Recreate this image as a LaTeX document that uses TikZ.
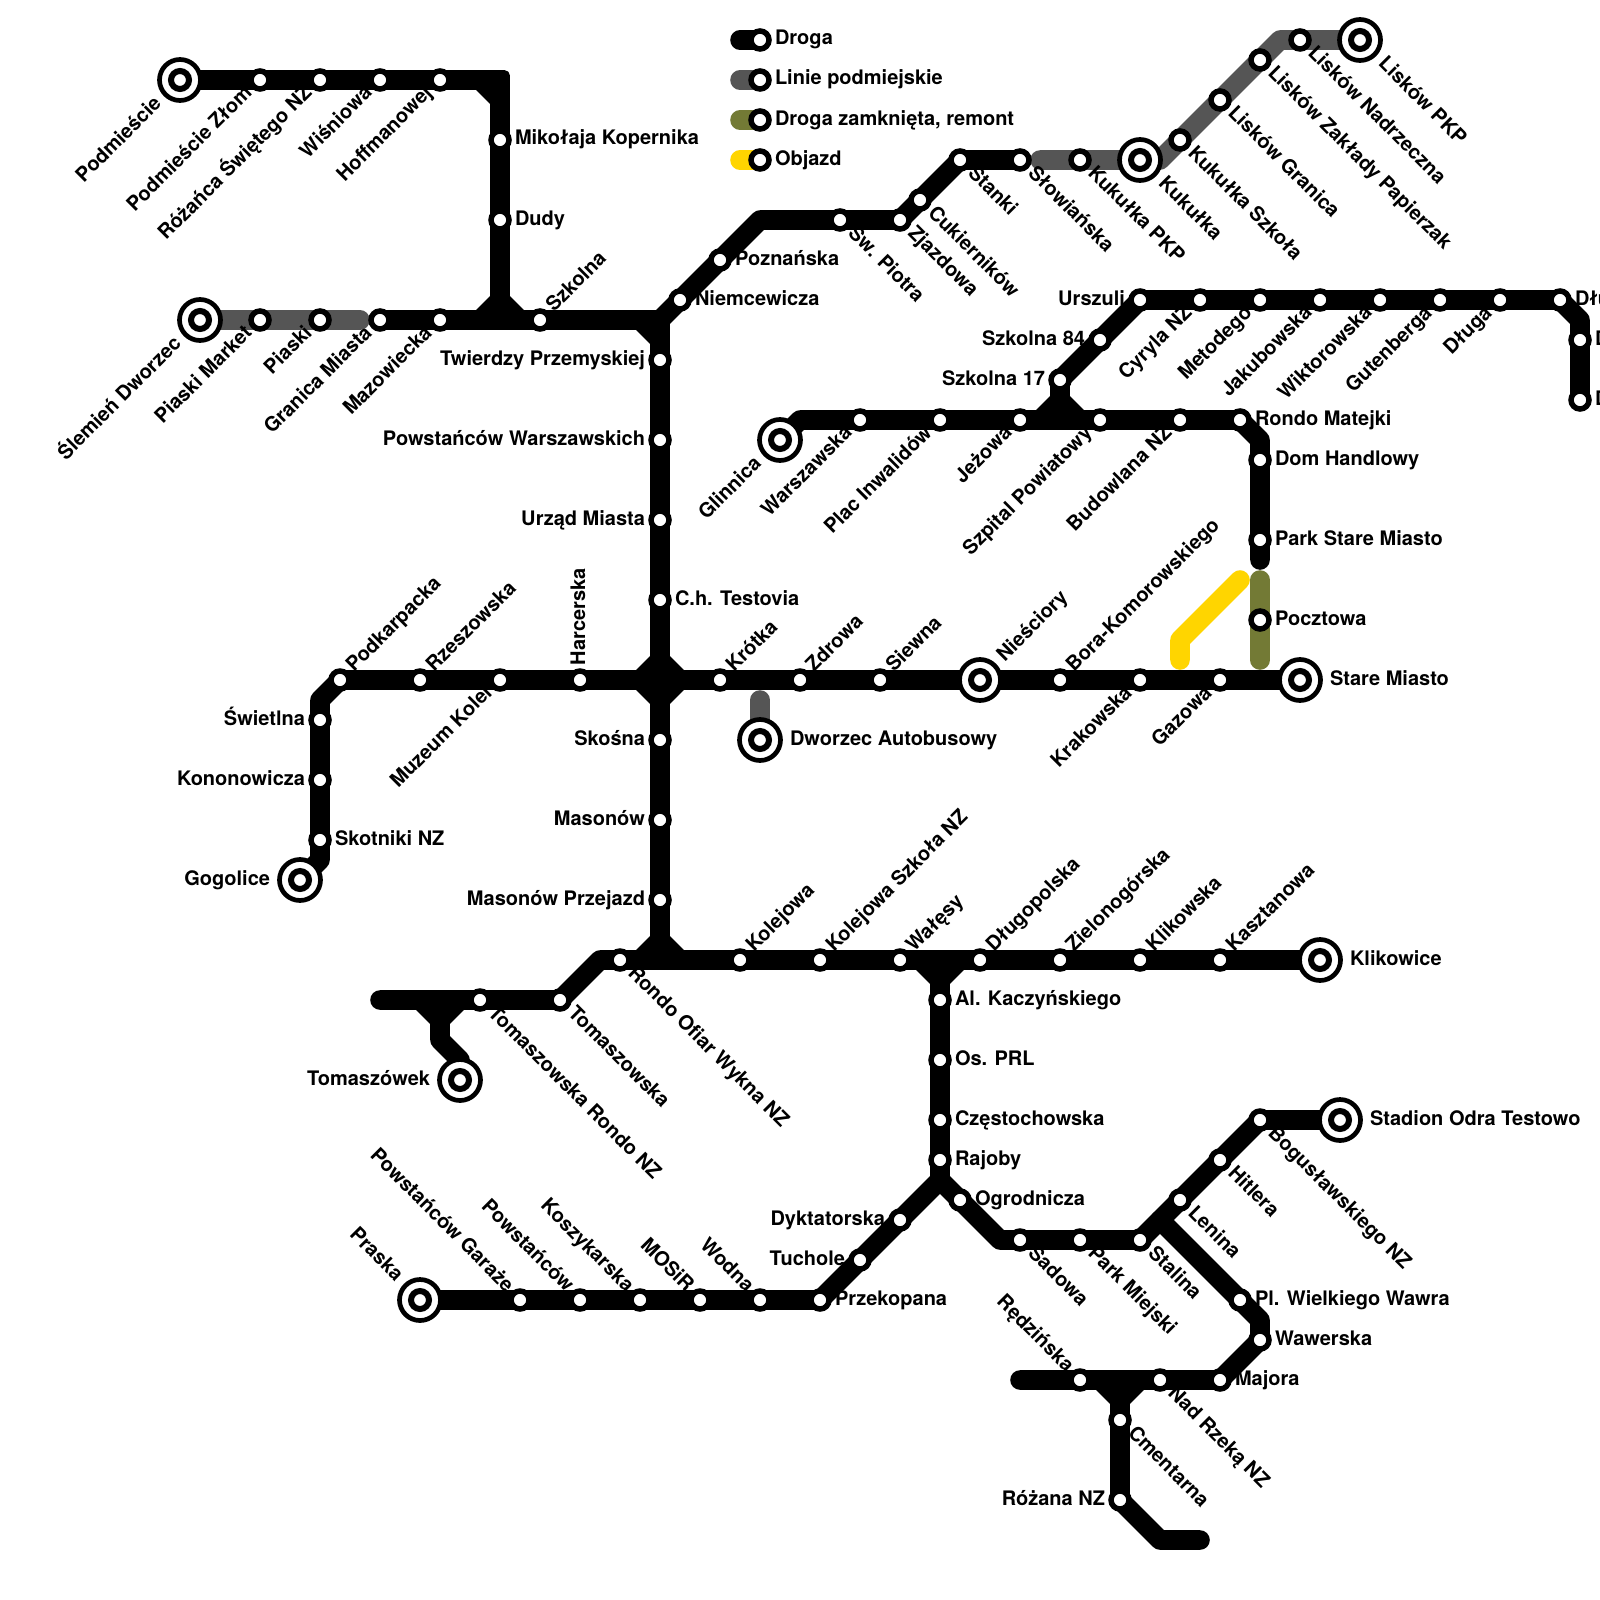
\documentclass[tikz,border=0pt]{standalone}
\usepackage{fontspec}
\setmainfont{TeX Gyre Heros}
\pgfdeclarelayer{lines}
\pgfsetlayers{lines,main}
\definecolor{rdgray}{HTML}{555555}
\definecolor{rdolive}{HTML}{737A35}
\definecolor{rdyellow}{HTML}{FFD500}
\tikzset{
  x=1pt,y=-1pt,
  ln/.style={line width=19.6pt,line cap=round,line join=round,black},
  lngray/.style={ln,rdgray},
  lnolive/.style={ln,rdolive},
  lnyellow/.style={ln,rdyellow},
  stop/.style={circle,draw=black,fill=white,line width=5.5pt,minimum size=18pt,inner sep=0pt,outer sep=0pt},
  termout/.style={circle,draw=black,fill=white,line width=4.7pt,minimum size=41pt,inner sep=0pt,outer sep=0pt},
  termin/.style={circle,draw=black,fill=white,line width=6pt,minimum size=18pt,inner sep=0pt,outer sep=0pt},
  txt/.style={font=\fontsize{20}{21}\selectfont\bfseries,inner sep=0pt,outer sep=0pt,text=black},
  lblE/.style={txt,anchor=base west,xshift=#1pt,yshift=-5pt},
  lblW/.style={txt,anchor=base east,xshift=-#1pt,yshift=-5pt},
  lblNE/.style={txt,rotate=45,anchor=base west,xshift=#1pt,yshift=-5pt},
  lblSW/.style={txt,rotate=45,anchor=base east,xshift=-#1pt,yshift=-5pt},
  lblSE/.style={txt,rotate=-45,anchor=base west,xshift=#1pt,yshift=-5pt},
  lblNW/.style={txt,rotate=-45,anchor=base east,xshift=-#1pt,yshift=-5pt},
  lblN/.style={txt,rotate=90,anchor=base west,xshift=#1pt,yshift=-5pt},
  lblE/.default=15,lblW/.default=15,lblNE/.default=15,lblSW/.default=15,
  lblSE/.default=15,lblNW/.default=15,lblN/.default=15,
}
\newcommand{\st}[5]{\node[stop] (#1) at (#2,#3) {}; \node[#4] (#1t) at (#1) {#5};}
\newcommand{\tm}[5]{\node[termout] (#1) at (#2,#3) {}; \node[termin] (#1i) at (#1) {}; \node[#4=30] (#1t) at (#1) {#5};}
\newcommand{\bend}[3]{\coordinate (#1) at (#2,#3);}
\begin{document}
\begin{tikzpicture}
\useasboundingbox (0,0) rectangle (1600,1600);
% legend
\st{lega}{760}{40}{lblE}{Droga}
\st{legb}{760}{80}{lblE}{Linie podmiejskie}
\st{legc}{760}{120}{lblE}{Droga zamknięta, remont}
\st{legd}{760}{160}{lblE}{Objazd}
\bend{lsa}{740}{40}\bend{lsb}{740}{80}\bend{lsc}{740}{120}\bend{lsd}{740}{160}
% top-left
\tm{podm}{180}{80}{lblSW}{Podmieście}
\st{zlom}{260}{80}{lblSW}{Podmieście Złom}
\st{roza}{320}{80}{lblSW}{Różańca Świętego NZ}
\st{wisn}{380}{80}{lblSW}{Wiśniowa}
\st{hoff}{440}{80}{lblSW}{Hoffmanowej}
\st{miko}{500}{140}{lblE}{Mikołaja Kopernika}
\st{dudy}{500}{220}{lblE}{Dudy}
\tm{slem}{200}{320}{lblSW}{Ślemień Dworzec}
\st{pmar}{260}{320}{lblSW}{Piaski Market}
\st{pias}{320}{320}{lblSW}{Piaski}
\st{gran}{380}{320}{lblSW}{Granica Miasta}
\st{mazo}{440}{320}{lblSW}{Mazowiecka}
\st{szko}{540}{320}{lblNE}{Szkolna}
% main vertical
\st{twie}{660}{360}{lblW}{Twierdzy Przemyskiej}
\st{powa}{660}{440}{lblW}{Powstańców Warszawskich}
\st{urza}{660}{520}{lblW}{Urząd Miasta}
\st{test}{660}{600}{lblE}{C.h. Testovia}
\st{skos}{660}{740}{lblW}{Skośna}
\st{maso}{660}{820}{lblW}{Masonów}
\st{mprz}{660}{900}{lblW}{Masonów Przejazd}
% upper diagonal
\st{niem}{680}{300}{lblE}{Niemcewicza}
\st{pozn}{720}{260}{lblE}{Poznańska}
\st{swpi}{840}{220}{lblSE}{Św. Piotra}
\st{zjaz}{900}{220}{lblSE}{Zjazdowa}
\st{cuki}{920}{200}{lblSE}{Cukierników}
\st{stan}{960}{160}{lblSE}{Stanki}
\st{slow}{1020}{160}{lblSE}{Słowiańska}
\st{kpkp}{1080}{160}{lblSE}{Kukułka PKP}
\tm{kuku}{1140}{160}{lblSE}{Kukułka}
\st{kszk}{1180}{140}{lblSE}{Kukułka Szkoła}
\st{lgra}{1220}{100}{lblSE}{Lisków Granica}
\st{lzak}{1260}{60}{lblSE}{Lisków Zakłady Papierzak}
\st{lnad}{1300}{40}{lblSE}{Lisków Nadrzeczna}
\tm{lpkp}{1360}{40}{lblSE}{Lisków PKP}
% Urszuli row
\st{ursz}{1140}{300}{lblW}{Urszuli}
\st{sz84}{1100}{340}{lblW}{Szkolna 84}
\st{sz17}{1060}{380}{lblW}{Szkolna 17}
\st{cyry}{1200}{300}{lblSW}{Cyryla NZ}
\st{meto}{1260}{300}{lblSW}{Metodego}
\st{jaku}{1320}{300}{lblSW}{Jakubowska}
\st{wikt}{1380}{300}{lblSW}{Wiktorowska}
\st{gute}{1440}{300}{lblSW}{Gutenberga}
\st{dlug}{1500}{300}{lblSW}{Długa}
\st{dlub}{1560}{300}{lblE}{Dłu}
\st{dxa}{1580}{340}{lblE}{D}
\st{dxb}{1580}{400}{lblE}{D}
% Glinnica row
\tm{glin}{780}{440}{lblSW}{Glinnica}
\st{wars}{860}{420}{lblSW}{Warszawska}
\st{plac}{940}{420}{lblSW}{Plac Inwalidów}
\st{jezo}{1020}{420}{lblSW}{Jeżowa}
\st{szpi}{1100}{420}{lblSW}{Szpital Powiatowy}
\st{budo}{1180}{420}{lblSW}{Budowlana NZ}
\st{rmat}{1240}{420}{lblE}{Rondo Matejki}
\st{domh}{1260}{460}{lblE}{Dom Handlowy}
\st{park}{1260}{540}{lblE}{Park Stare Miasto}
\st{pocz}{1260}{620}{lblE}{Pocztowa}
% row 680
\st{podk}{340}{680}{lblNE}{Podkarpacka}
\st{rzes}{420}{680}{lblNE}{Rzeszowska}
\st{muze}{500}{680}{lblSW}{Muzeum Kolei}
\st{harc}{580}{680}{lblN}{Harcerska}
\st{krot}{720}{680}{lblNE}{Krótka}
\st{zdro}{800}{680}{lblNE}{Zdrowa}
\st{siew}{880}{680}{lblNE}{Siewna}
\tm{nies}{980}{680}{lblNE}{Nieściory}
\st{bora}{1060}{680}{lblNE}{Bora-Komorowskiego}
\st{krak}{1140}{680}{lblSW}{Krakowska}
\st{gazo}{1220}{680}{lblSW}{Gazowa}
\tm{star}{1300}{680}{lblE}{Stare Miasto}
\tm{dwor}{760}{740}{lblE}{Dworzec Autobusowy}
% left branch
\st{swie}{320}{720}{lblW}{Świetlna}
\st{kono}{320}{780}{lblW}{Kononowicza}
\st{skot}{320}{840}{lblE}{Skotniki NZ}
\tm{gogo}{300}{880}{lblW}{Gogolice}
% row 960
\st{rofi}{620}{960}{lblSE}{Rondo Ofiar Wykna NZ}
\st{kole}{740}{960}{lblNE}{Kolejowa}
\st{kosz}{820}{960}{lblNE}{Kolejowa Szkoła NZ}
\st{wale}{900}{960}{lblNE}{Wałęsy}
\st{dluo}{980}{960}{lblNE}{Długopolska}
\st{ziel}{1060}{960}{lblNE}{Zielonogórska}
\st{klis}{1140}{960}{lblNE}{Klikowska}
\st{kasz}{1220}{960}{lblNE}{Kasztanowa}
\tm{klik}{1320}{960}{lblE}{Klikowice}
\st{toma}{560}{1000}{lblSE}{Tomaszowska}
\st{tron}{480}{1000}{lblSE}{Tomaszowska Rondo NZ}
\tm{tomk}{460}{1080}{lblW}{Tomaszówek}
% south vertical
\st{alka}{940}{1000}{lblE}{Al. Kaczyńskiego}
\st{ospr}{940}{1060}{lblE}{Os. PRL}
\st{czes}{940}{1120}{lblE}{Częstochowska}
\st{rajo}{940}{1160}{lblE}{Rajoby}
\st{ogro}{960}{1200}{lblE}{Ogrodnicza}
\st{dykt}{900}{1220}{lblW}{Dyktatorska}
\st{tuch}{860}{1260}{lblW}{Tuchole}
\st{prze}{820}{1300}{lblE}{Przekopana}
\st{wodn}{760}{1300}{lblNW}{Wodna}
\st{mosi}{700}{1300}{lblNW}{MOSiR}
\st{kory}{640}{1300}{lblNW}{Koszykarska}
\st{pows}{580}{1300}{lblNW}{Powstańców}
\st{pgar}{520}{1300}{lblNW}{Powstańców Garaże}
\tm{pras}{420}{1300}{lblNW}{Praska}
% south-east
\st{sado}{1020}{1240}{lblSE}{Sadowa}
\st{pmie}{1080}{1240}{lblSE}{Park Miejski}
\st{stal}{1140}{1240}{lblSE}{Stalina}
\st{leni}{1180}{1200}{lblSE}{Lenina}
\st{hitl}{1220}{1160}{lblSE}{Hitlera}
\st{bogu}{1260}{1120}{lblSE}{Bogusławskiego NZ}
\tm{stad}{1340}{1120}{lblE}{Stadion Odra Testowo}
\st{plwa}{1240}{1300}{lblE}{Pl. Wielkiego Wawra}
\st{wawe}{1260}{1340}{lblE}{Wawerska}
\st{majo}{1220}{1380}{lblE}{Majora}
\st{nadr}{1160}{1380}{lblSE}{Nad Rzeką NZ}
\st{redz}{1080}{1380}{lblNW}{Rędzińska}
\st{cmen}{1120}{1420}{lblSE}{Cmentarna}
\st{roza2}{1120}{1500}{lblW}{Różana NZ}
% bends and junctions
\bend{j1}{500}{80}\bend{j1a}{480}{80}\bend{j1b}{500}{100}
\bend{j2}{500}{320}\bend{j2a}{480}{320}\bend{j2b}{500}{300}\bend{j2c}{520}{320}
\bend{j3}{660}{320}\bend{j3a}{640}{320}\bend{j3b}{660}{340}
\bend{j4}{660}{680}\bend{j4a}{640}{680}\bend{j4b}{680}{680}\bend{j4c}{660}{660}\bend{j4d}{660}{700}
\bend{j5}{660}{960}\bend{j5a}{640}{960}\bend{j5b}{680}{960}\bend{j5c}{660}{940}
\bend{j6}{940}{960}\bend{j6a}{920}{960}\bend{j6b}{960}{960}\bend{j6c}{940}{980}
\bend{j7}{1060}{420}\bend{j7a}{1040}{420}\bend{j7b}{1080}{420}\bend{j7c}{1060}{400}
\bend{j8}{440}{1000}\bend{j8a}{420}{1000}\bend{j8b}{460}{1000}\bend{j8c}{440}{1020}
\bend{j9}{1120}{1380}\bend{j9a}{1100}{1380}\bend{j9b}{1140}{1380}\bend{j9c}{1120}{1400}
\bend{j10}{940}{1180}\bend{j11}{1160}{1220}
\bend{c1}{760}{220}\bend{c2}{1160}{160}\bend{c3}{1280}{40}\bend{c4}{1580}{320}
\bend{c5}{800}{420}\bend{c6}{1260}{440}\bend{c7}{320}{700}\bend{c8}{320}{860}
\bend{c9}{600}{960}\bend{c10}{440}{1040}\bend{c11}{460}{1060}\bend{c12}{1000}{1240}
\bend{c13}{1260}{1320}\bend{c14}{1160}{1540}
\bend{e1}{360}{320}\bend{e2}{1040}{160}\bend{e3}{1260}{560}\bend{e4}{1260}{580}\bend{e5}{1260}{660}
\bend{e6}{1240}{580}\bend{e7}{1180}{640}\bend{e8}{1180}{660}\bend{e9}{760}{700}
\bend{e10}{380}{1000}\bend{e11}{1020}{1380}\bend{e12}{1200}{1540}
\begin{pgfonlayer}{lines}
% legend lines
\draw[ln] (lsa) -- (lega.center);
\draw[lngray] (lsb) -- (legb.center);
\draw[lnolive] (lsc) -- (legc.center);
\draw[lnyellow] (lsd) -- (legd.center);
% grey and closed sections
\draw[lngray] (slem.center) -- (pmar.center) -- (pias.center) -- (e1);
\draw[lngray] (e2) -- (kpkp.center) -- (kuku.center) -- (c2) -- (kszk.center) -- (lgra.center) -- (lzak.center) -- (c3) -- (lnad.center) -- (lpkp.center);
\draw[lngray] (e9) -- (dwor.center);
\draw[lnolive] (e4) -- (pocz.center) -- (e5);
\draw[lnyellow] (e6) -- (e7) -- (e8);
% black lines
\fill[black,rounded corners=5pt] (470,70.2) -- (509.8,70.2) -- (509.8,110) -- (490.2,110) -- (490.2,89.8) -- (470,89.8) -- cycle;
\draw[ln] (podm.center) -- (zlom.center) -- (roza.center) -- (wisn.center) -- (hoff.center) -- (j1a);
\draw[ln] (j1a) -- (j1b) -- (miko.center) -- (dudy.center) -- (j2);
\draw[ln] (gran.center) -- (mazo.center) -- (j2) -- (szko.center) -- (j3) -- (twie.center) -- (powa.center) -- (urza.center) -- (test.center) -- (j4) -- (skos.center) -- (maso.center) -- (mprz.center) -- (j5);
\draw[ln] (j3) -- (niem.center) -- (pozn.center) -- (c1) -- (swpi.center) -- (zjaz.center) -- (cuki.center) -- (stan.center) -- (slow.center);
\draw[ln] (ursz.center) -- (cyry.center) -- (meto.center) -- (jaku.center) -- (wikt.center) -- (gute.center) -- (dlug.center) -- (dlub.center) -- (c4) -- (dxa.center) -- (dxb.center);
\draw[ln] (ursz.center) -- (sz84.center) -- (sz17.center) -- (j7);
\draw[ln] (glin.center) -- (c5) -- (wars.center) -- (plac.center) -- (jezo.center) -- (j7) -- (szpi.center) -- (budo.center) -- (rmat.center) -- (c6) -- (domh.center) -- (park.center) -- (e3);
\draw[ln] (gogo.center) -- (c8) -- (skot.center) -- (kono.center) -- (swie.center) -- (c7) -- (podk.center) -- (rzes.center) -- (muze.center) -- (harc.center) -- (j4) -- (krot.center) -- (zdro.center) -- (siew.center) -- (nies.center) -- (bora.center) -- (krak.center) -- (gazo.center) -- (star.center);
\draw[ln] (e10) -- (j8) -- (tron.center) -- (toma.center) -- (c9) -- (rofi.center) -- (j5) -- (kole.center) -- (kosz.center) -- (wale.center) -- (j6) -- (dluo.center) -- (ziel.center) -- (klis.center) -- (kasz.center) -- (klik.center);
\draw[ln] (j8) -- (c10) -- (c11) -- (tomk.center);
\draw[ln] (j6) -- (alka.center) -- (ospr.center) -- (czes.center) -- (rajo.center) -- (j10);
\draw[ln] (j10) -- (dykt.center) -- (tuch.center) -- (prze.center) -- (wodn.center) -- (mosi.center) -- (kory.center) -- (pows.center) -- (pgar.center) -- (pras.center);
\draw[ln] (j10) -- (ogro.center) -- (c12) -- (sado.center) -- (pmie.center) -- (stal.center) -- (j11) -- (leni.center) -- (hitl.center) -- (bogu.center) -- (stad.center);
\draw[ln] (j11) -- (plwa.center) -- (c13) -- (wawe.center) -- (majo.center) -- (nadr.center) -- (j9) -- (redz.center) -- (e11);
\draw[ln] (j9) -- (cmen.center) -- (roza2.center) -- (c14) -- (e12);
% chamfers at the junctions
\draw[ln] (j2a) -- (j2b) -- (j2c);
\draw[ln] (j3a) -- (j3b);
\draw[ln] (j4a) -- (j4c) -- (j4b) -- (j4d) -- cycle;
\draw[ln] (j5a) -- (j5c) -- (j5b);
\draw[ln] (j6a) -- (j6c) -- (j6b);
\draw[ln] (j7a) -- (j7c) -- (j7b);
\draw[ln] (j8a) -- (j8c) -- (j8b);
\draw[ln] (j9a) -- (j9c) -- (j9b);
\end{pgfonlayer}
\end{tikzpicture}
\end{document}
